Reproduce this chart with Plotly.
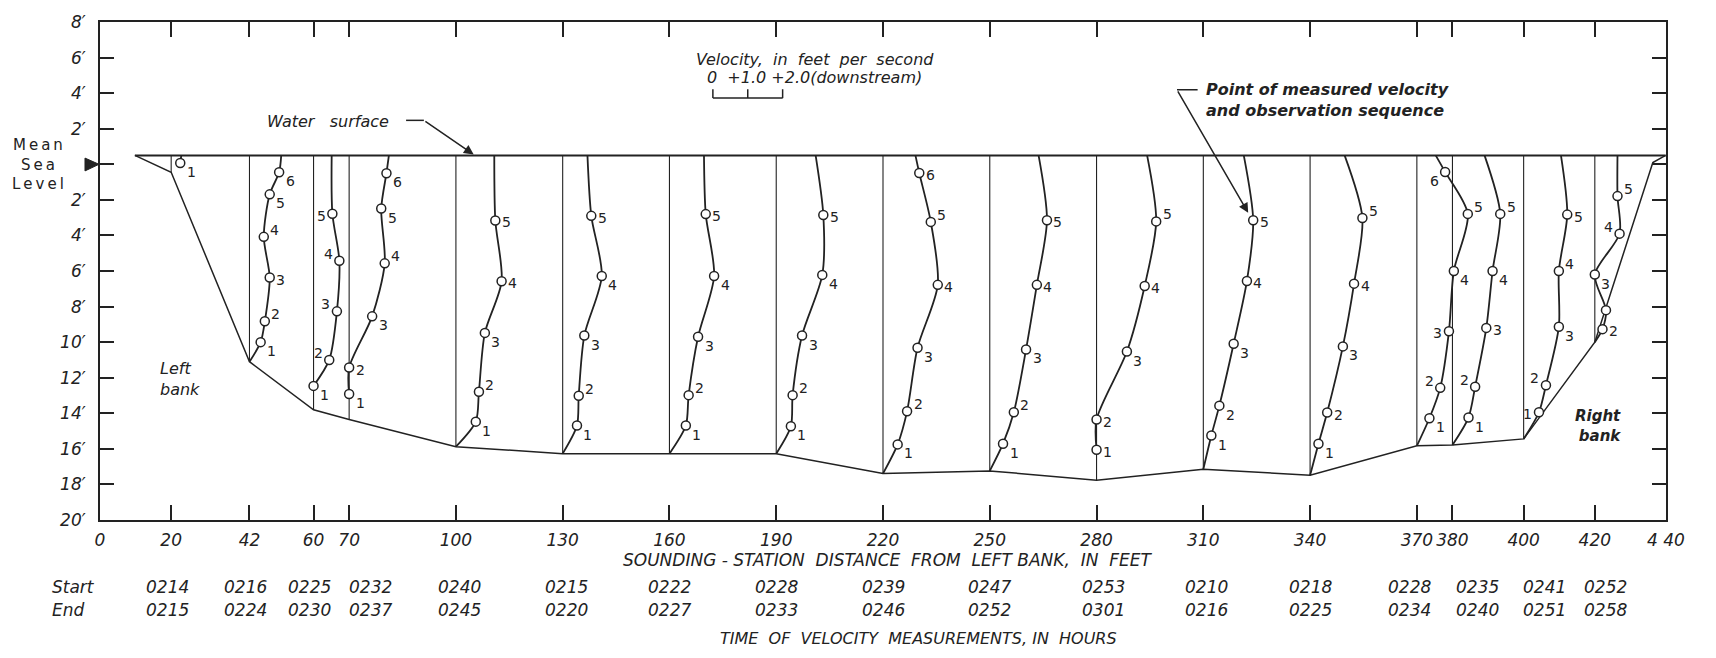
import numpy as np
import plotly.graph_objects as go

# ---------------- data ----------------
STATIONS = [20, 42, 60, 70, 100, 130, 160, 190, 220, 250, 280, 310, 340, 370, 380, 400, 420]
X_TICKS = [0, 20, 42, 60, 70, 100, 130, 160, 190, 220, 250, 280, 310, 340, 370, 380, 400, 420, 440]
X_TICK_TEXT = ["0", "20", "42", "60", "70", "100", "130", "160", "190", "220", "250", "280",
               "310", "340", "370", "380", "400", "420", "4 40"]
Y_TICKS = [8, 6, 4, 2, 0, -2, -4, -6, -8, -10, -12, -14, -16, -18, -20]
Y_TICK_TEXT = ["8′", "6′", "4′", "2′", "", "2′", "4′", "6′", "8′", "10′", "12′", "14′", "16′", "18′", "20′"]

WATER_SURFACE = 0.5
BED_X = [9.8, 20, 42, 60, 70, 100, 130, 160, 190, 220, 250, 280, 310, 340, 370, 380, 400, 420, 436.3, 439.9]
BED_Z = [0.5, -0.45, -11.1, -13.8, -14.35, -15.88, -16.27, -16.27, -16.27, -17.39, -17.24, -17.76,
         -17.15, -17.48, -15.83, -15.78, -15.44, -10.0, 0.1, 0.5]

# velocity (ft/s) at the water surface, then measured points (top to bottom)
SURFACE_VEL = [0.29, 0.91, 0.52, 1.14, 1.10, 0.71, 0.99, 1.13, 0.93, 1.40, 1.45, 1.16, 0.99, 0.54, 0.92, 1.07, 0.65]
SEQ = [
    [1],
    [6, 5, 4, 3, 2, 1],
    [5, 4, 3, 2, 1],
    [6, 5, 4, 3, 2, 1],
    [5, 4, 3, 2, 1],
    [5, 4, 3, 2, 1],
    [5, 4, 3, 2, 1],
    [5, 4, 3, 2, 1],
    [6, 5, 4, 3, 2, 1],
    [5, 4, 3, 2, 1],
    [5, 4, 3, 2, 1],
    [5, 4, 3, 2, 1],
    [5, 4, 3, 2, 1],
    [6, 5, 4, 3, 2, 1],
    [5, 4, 3, 2, 1],
    [5, 4, 3, 2, 1],
    [5, 4, 3, 1, 2],
]
VEL = [
    [0.26],
    [0.85, 0.58, 0.41, 0.58, 0.44, 0.32],
    [0.54, 0.74, 0.67, 0.45, 0.0],
    [1.07, 0.92, 1.02, 0.66, 0.0, 0.0],
    [1.13, 1.31, 0.83, 0.66, 0.57],
    [0.82, 1.12, 0.62, 0.46, 0.41],
    [1.04, 1.28, 0.82, 0.55, 0.47],
    [1.35, 1.32, 0.74, 0.47, 0.42],
    [1.04, 1.37, 1.57, 0.99, 0.69, 0.42],
    [1.64, 1.35, 1.04, 0.69, 0.38],
    [1.71, 1.38, 0.87, 0.0, 0.0],
    [1.43, 1.25, 0.87, 0.46, 0.23],
    [1.50, 1.26, 0.94, 0.49, 0.24],
    [0.81, 1.46, 1.06, 0.92, 0.67, 0.36],
    [1.37, 1.15, 0.97, 0.65, 0.46],
    [1.25, 1.01, 1.01, 0.64, 0.44],
    [0.65, 0.71, 0.0, 0.32, 0.22],
]
ELEV = [
    [0.07],
    [-0.45, -1.69, -4.08, -6.37, -8.83, -10.0],
    [-2.78, -5.42, -8.27, -11.0, -12.46],
    [-0.5, -2.49, -5.57, -8.55, -11.43, -12.92],
    [-3.16, -6.58, -9.48, -12.79, -14.47],
    [-2.9, -6.28, -9.63, -13.01, -14.69],
    [-2.8, -6.28, -9.7, -12.98, -14.69],
    [-2.85, -6.22, -9.63, -12.98, -14.73],
    [-0.49, -3.24, -6.78, -10.32, -13.89, -15.75],
    [-3.15, -6.78, -10.41, -13.94, -15.71],
    [-3.21, -6.84, -10.53, -14.35, -16.05],
    [-3.15, -6.56, -10.09, -13.57, -15.25],
    [-3.02, -6.71, -10.24, -13.96, -15.71],
    [-0.43, -2.79, -6.0, -9.39, -12.57, -14.28],
    [-2.79, -6.0, -9.2, -12.51, -14.24],
    [-2.83, -6.0, -9.13, -12.42, -13.94],
    [-1.79, -3.9, -6.2, -8.2, -9.27],
]
ENDS_AT_BED = [False, True, False, False, True, True, True, True, True, True, False, True, True,
               True, True, True, True]

START_TIMES = ["0214", "0216", "0225", "0232", "0240", "0215", "0222", "0228", "0239", "0247",
               "0253", "0210", "0218", "0228", "0235", "0241", "0252"]
END_TIMES = ["0215", "0224", "0230", "0237", "0245", "0220", "0227", "0233", "0246", "0252",
             "0301", "0216", "0225", "0234", "0240", "0251", "0258"]

# ---------------- layout / style ----------------
VEL_SCALE = 9.8          # feet of drawing per 1 ft/s
TIME_X = [19, 41, 59, 76, 101, 131, 160, 190, 220, 250, 282, 311, 340, 368, 387, 406, 423]
LABEL_SIDE = [
    ["rb"],
    ["rb", "rb", "ra", "r", "ra", "rb"],
    ["l", "la", "la", "la", "rb"],
    ["rb", "rb", "ra", "rb", "r", "rb"],
    ["r", "r", "rb", "ra", "rb"],
    ["r", "rb", "rb", "ra", "rb"],
    ["r", "rb", "rb", "ra", "rb"],
    ["r", "rb", "rb", "ra", "rb"],
    ["r", "ra", "r", "rb", "ra", "rb"],
    ["r", "r", "rb", "ra", "rb"],
    ["ra", "r", "rb", "r", "r"],
    ["r", "r", "rb", "rb", "rb"],
    ["ra", "r", "rb", "r", "rb"],
    ["lb", "ra", "rb", "l", "la", "rb"],
    ["ra", "rb", "r", "la", "rb"],
    ["r", "ra", "rb", "la", "l"],
    ["ra", "la", "rb", "n", "r"],
]
SHIFT = {"r": (11, -2), "ra": (11, 7), "rb": (11, -9), "l": (-11, -2), "la": (-11, 7), "lb": (-11, -9)}

W, H = 1716, 658
ML, MR, MT, MB = 100, 50, 15, 138
PW, PH = W - ML - MR, H - MT - MB
INK = "#222222"
FONT = "DejaVu Sans"


def pxx(px):
    return (px - ML) / PW


def pxy(py):
    return (H - MB - py) / PH


def bed_at(x):
    return float(np.interp(x, BED_X, BED_Z))


fig = go.Figure()

# station verticals
vx, vy = [], []
for st in STATIONS:
    vx += [st, st, None]
    vy += [WATER_SURFACE, bed_at(st), None]
fig.add_trace(go.Scatter(x=vx, y=vy, mode="lines", line=dict(color=INK, width=1.1), hoverinfo="skip"))

# bed and water surface
fig.add_trace(go.Scatter(x=BED_X, y=BED_Z, mode="lines", line=dict(color=INK, width=1.5), hoverinfo="skip"))
fig.add_trace(go.Scatter(x=[BED_X[0], BED_X[-1]], y=[WATER_SURFACE, WATER_SURFACE], mode="lines",
                         line=dict(color=INK, width=2), hoverinfo="skip"))

# velocity curves
mx, my = [], []
for i, st in enumerate(STATIONS):
    xs = [st + SURFACE_VEL[i] * VEL_SCALE] + [st + v * VEL_SCALE for v in VEL[i]]
    ys = [WATER_SURFACE] + list(ELEV[i])
    if ENDS_AT_BED[i]:
        xs.append(st)
        ys.append(bed_at(st))
    fig.add_trace(go.Scatter(x=xs, y=ys, mode="lines", line=dict(color=INK, width=1.8, shape="spline",
                                                                   smoothing=0.8), hoverinfo="skip"))
    mx += [st + v * VEL_SCALE for v in VEL[i]]
    my += list(ELEV[i])

fig.add_trace(go.Scatter(x=mx, y=my, mode="markers",
                         marker=dict(symbol="circle", size=9, color="white", line=dict(color=INK, width=1.5)),
                         hoverinfo="skip"))

annotations = []
# sequence numbers
for i, st in enumerate(STATIONS):
    for n, v, z, side in zip(SEQ[i], VEL[i], ELEV[i], LABEL_SIDE[i]):
        if side == "n":
            continue
        dx, dy = SHIFT[side]
        annotations.append(dict(x=st + v * VEL_SCALE, y=z, xref="x", yref="y", text=str(n), showarrow=False,
                                xshift=dx, yshift=dy, font=dict(size=14, color=INK, family=FONT)))

# time rows
for tx, s, e in zip(TIME_X, START_TIMES, END_TIMES):
    annotations.append(dict(x=tx, y=pxy(588), xref="x", yref="paper", text="<i>" + s + "</i>",
                            xanchor="center", yanchor="middle",
                            showarrow=False, font=dict(size=17, color=INK, family=FONT)))
    annotations.append(dict(x=tx, y=pxy(611), xref="x", yref="paper", text="<i>" + e + "</i>",
                            xanchor="center", yanchor="middle",
                            showarrow=False, font=dict(size=17, color=INK, family=FONT)))

nb = "\u00a0"
ts = "\u2009"
texts = [
    dict(x=pxx(50), y=pxy(588), xref="paper", yref="paper", xanchor="left", text="<i>Start</i>", size=17),
    dict(x=pxx(50), y=pxy(611), xref="paper", yref="paper", xanchor="left", text="<i>End</i>", size=17),
    dict(x=pxx(888), y=pxy(561), xref="paper", yref="paper", xanchor="center",
         text="<i>SOUNDING - STATION" + nb * 2 + "DISTANCE" + nb * 2 + "FROM" + nb * 2 + "LEFT BANK," + nb * 2
              + "IN" + nb * 2 + "FEET</i>", size=17),
    dict(x=pxx(918), y=pxy(640), xref="paper", yref="paper", xanchor="center",
         text="<i>TIME" + nb * 2 + "OF" + nb * 2 + "VELOCITY" + nb * 2 + "MEASUREMENTS," + nb + "IN" + nb * 2
              + "HOURS</i>", size=16),
    dict(x=201, y=5.9, xref="x", yref="y", xanchor="center",
         text="<i>Velocity," + nb * 2 + "in" + nb * 2 + "feet" + nb * 2 + "per" + nb * 2 + "second</i>", size=16),
    dict(x=170.0, y=4.86, xref="x", yref="y", xanchor="left",
         text="<i>0" + nb * 2 + "+1.0" + nb + "+2.0(downstream)</i>", size=16),
    dict(x=64, y=2.42, xref="x", yref="y", xanchor="center",
         text="<i>Water" + nb * 3 + "surface</i>", size=16),
    dict(x=310.3, y=3.6, xref="x", yref="y", xanchor="left", align="left",
         text="<b><i>Point" + nb + "of" + nb + "measured" + nb + "velocity<br>and" + nb + "observation"
              + nb + "sequence</i></b>", size=16),
    dict(x=22.5, y=-12.05, xref="x", yref="y", xanchor="center", align="left",
         text="<i>Left<br>bank</i>", size=16),
    dict(x=420.8, y=-14.7, xref="x", yref="y", xanchor="center", align="right",
         text="<b><i>Right<br>bank</i></b>", size=15),
    dict(x=pxx(38), y=pxy(159), xref="paper", yref="paper", xanchor="center", align="center",
         text=ts.join("Mean") + "<br>" + ts.join("Sea") + "<br>" + ts.join("Level"), size=15),
]
for t in texts:
    size = t.pop("size")
    annotations.append(dict(showarrow=False, font=dict(size=size, color=INK, family=FONT), yanchor="middle", **t))

# leader arrows
annotations.append(dict(x=105, y=0.55, ax=91, ay=2.47, xref="x", yref="y", axref="x", ayref="y", text="",
                        showarrow=True, arrowhead=2, arrowsize=1.3, arrowwidth=1.5, arrowcolor=INK, standoff=0))
annotations.append(dict(x=322.6, y=-2.73, ax=302.6, ay=4.19, xref="x", yref="y", axref="x", ayref="y", text="",
                        showarrow=True, arrowhead=2, arrowsize=1.3, arrowwidth=1.5, arrowcolor=INK, standoff=0))

shapes = [
    dict(type="line", xref="x", yref="y", x0=86, x1=91, y0=2.47, y1=2.47, line=dict(color=INK, width=1.5)),
    dict(type="line", xref="x", yref="y", x0=302.6, x1=308.4, y0=4.19, y1=4.19, line=dict(color=INK, width=1.5)),
    # velocity scale bracket
    dict(type="line", xref="x", yref="y", x0=172.2, x1=172.2 + 2 * VEL_SCALE, y0=3.72, y1=3.72,
         line=dict(color=INK, width=1.5)),
    dict(type="line", xref="x", yref="y", x0=172.2, x1=172.2, y0=3.72, y1=4.22, line=dict(color=INK, width=1.5)),
    dict(type="line", xref="x", yref="y", x0=172.2 + VEL_SCALE, x1=172.2 + VEL_SCALE, y0=3.72, y1=4.22,
         line=dict(color=INK, width=1.5)),
    dict(type="line", xref="x", yref="y", x0=172.2 + 2 * VEL_SCALE, x1=172.2 + 2 * VEL_SCALE, y0=3.72, y1=4.22,
         line=dict(color=INK, width=1.5)),
    # Mean sea level pointer
    dict(type="path", xref="paper", yref="paper",
         path="M {:.5f},{:.5f} L {:.5f},{:.5f} L {:.5f},{:.5f} Z".format(
             pxx(85), pxy(153), pxx(99), pxy(159.3), pxx(85), pxy(166)),
         fillcolor=INK, line=dict(color=INK, width=1)),
]

axis_common = dict(showgrid=False, zeroline=False, showline=True, linewidth=2, linecolor=INK, mirror="ticks",
                   ticks="inside", tickwidth=1.5, tickcolor=INK)

fig.update_layout(
    width=W, height=H, margin=dict(l=ML, r=MR, t=MT, b=MB, pad=0),
    plot_bgcolor="white", paper_bgcolor="white", showlegend=False,
    font=dict(family=FONT, color=INK),
    xaxis=dict(range=[0, 440], tickmode="array", tickvals=X_TICKS, ticktext=X_TICK_TEXT, ticklen=15,
               tickfont=dict(size=17, family=FONT, color=INK, style="italic"), ticklabelstandoff=4,
               **axis_common),
    yaxis=dict(range=[-20, 8], tickmode="array", tickvals=Y_TICKS, ticktext=Y_TICK_TEXT, ticklen=14,
               tickfont=dict(size=17, family=FONT, color=INK, style="italic"), ticklabelstandoff=9,
               **axis_common),
    annotations=annotations, shapes=shapes,
)

fig.write_html("out.html", config={"displayModeBar": False})
